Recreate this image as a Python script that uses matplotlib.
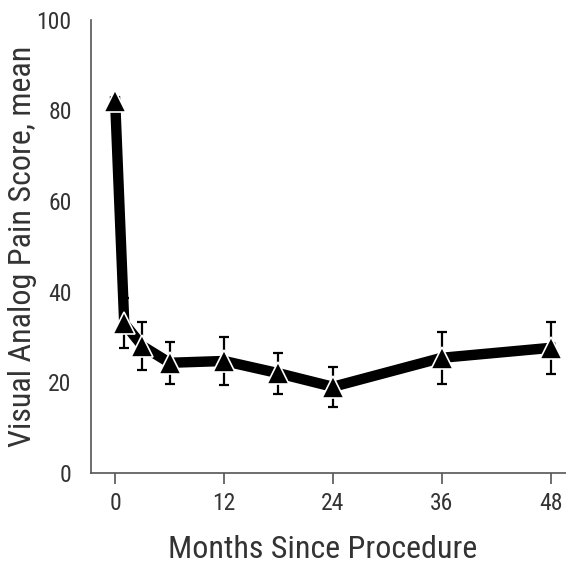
import matplotlib.pyplot as plt

# months after procedure and mean pain score
months = [0, 1, 3, 6, 12, 18, 24, 36, 48]
pain_mean = [82, 33, 28, 24.3, 24.7, 22, 19, 25.4, 27.6]
pain_err = [0, 5.5, 5.2, 4.6, 5.3, 4.5, 4.4, 5.7, 5.8]

x_ticks = [0, 12, 24, 36, 48]
y_ticks = [0, 20, 40, 60, 80, 100]

plt.rcParams['font.family'] = ['Roboto Condensed', 'DejaVu Sans']
text_color = '#333333'

fig = plt.figure(figsize=(5.66, 5.65), dpi=100)
ax = fig.add_axes([0.161, 0.163, 0.839, 0.802])

# error bars under the thick line (baseline point has none)
ax.errorbar(months[1:], pain_mean[1:], yerr=pain_err[1:], fmt='none', ecolor='black',
            elinewidth=1.6, capsize=3.5, capthick=1.6, zorder=1)
ax.plot(months, pain_mean, color='black', linewidth=7.5, solid_joinstyle='miter', zorder=2)
ax.plot(months, pain_mean, linestyle='none', marker='^', markersize=16.5,
        markerfacecolor='black', markeredgecolor='white', markeredgewidth=1.2, zorder=3)

ax.set_xlim(-2.65, 49.7)
ax.set_ylim(0, 100)
ax.set_xticks(x_ticks)
ax.set_yticks(y_ticks)

for side in ['top', 'right']:
    ax.spines[side].set_visible(False)
for side in ['left', 'bottom']:
    ax.spines[side].set_color('#555555')
    ax.spines[side].set_linewidth(1.2)

ax.tick_params(axis='x', length=8, width=1.2, color='#555555', labelsize=17,
               labelcolor=text_color, pad=6)
ax.tick_params(axis='y', length=0, labelsize=17, labelcolor=text_color, pad=14)

ax.set_xlabel('Months Since Procedure', fontsize=23, color=text_color)
ax.set_ylabel('Visual Analog Pain Score, mean', fontsize=23, color=text_color)
ax.xaxis.set_label_coords(0.488, -0.136)
ax.yaxis.set_label_coords(-0.114, 0.5)

fig.savefig('out.png', dpi=100)
